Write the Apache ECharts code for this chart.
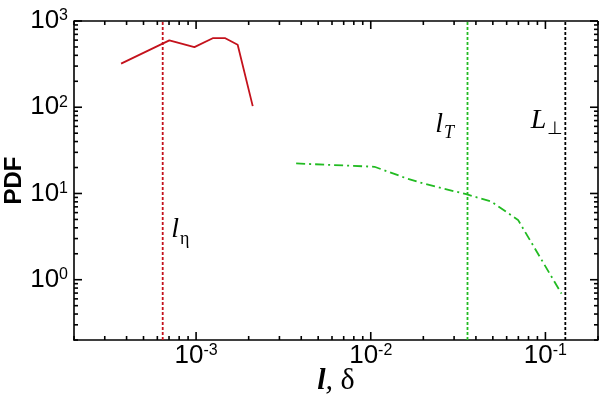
<!DOCTYPE html>
<html><head><meta charset="utf-8">
<script src="https://cdn.jsdelivr.net/npm/echarts@6/dist/echarts.min.js"></script>
<style>html,body{margin:0;padding:0;background:#fff}#c{width:600px;height:399px}</style>
</head><body><div id="c"></div>
<script>
// ---- data ----
const redX = [3.72e-4, 7.03e-4, 9.78e-4, 1.245e-3, 1.47e-3, 1.73e-3, 2.11e-3];
const redY = [320, 596, 498, 632, 632, 531, 103];
const greenX = [3.74e-3, 1.05e-2, 1.6e-2, 1.985e-2, 3.52e-2, 4.91e-2, 6.97e-2, 0.1236];
const greenY = [22.3, 20.4, 15.0, 13.1, 9.8, 8.04, 4.94, 0.69];
const vlineX = [6.44e-4, 3.58e-2, 0.13];
const xMajorTicks = [1e-3, 1e-2, 1e-1];
const yMajorTicks = [1, 10, 100, 1000];
const xRange = [2e-4, 0.2];
const yRange = [0.2, 1000];
const mantissas = [2, 3, 4, 5, 6, 7, 8, 9];
const xDecades = [1e-4, 1e-3, 1e-2, 1e-1];
const yDecades = [0.1, 1, 10, 100];

function minorTicks(decades, range) {
  const out = [];
  decades.forEach(d => mantissas.forEach(m => {
    const v = +(m * d).toPrecision(3);
    if (v >= range[0] && v <= range[1]) out.push(v);
  }));
  return out;
}
const xMinorTicks = minorTicks(xDecades, xRange);
const yMinorTicks = minorTicks(yDecades, yRange);

const RED = '#c4121c', GREEN = '#22bb22';
const sansFont = '"Liberation Sans", Arial, sans-serif';
const serifFont = '"Liberation Serif", "Times New Roman", serif';

const tickRich = {
  b: {fontSize: 26, lineHeight: 26, fontFamily: sansFont, color: '#000', verticalAlign: 'top'},
  s: {fontSize: 16, lineHeight: 16, fontFamily: sansFont, color: '#000', verticalAlign: 'top'}
};
function powLabel(v) {
  const e = Math.round(Math.log10(v));
  return '{b|10}{s|' + e + '}';
}

const xAxis = {
  type: 'log', min: xRange[0], max: xRange[1], position: 'bottom',
  axisLine: {show: true, onZero: false, lineStyle: {color: '#000', width: 1.6}},
  axisTick: {show: false},
  axisLabel: {show: true, customValues: xMajorTicks, formatter: powLabel, rich: tickRich, margin: 3},
  splitLine: {show: false},
  nameMoveOverlap: false,
  name: '{l|l}{c|, }{d|δ}', nameLocation: 'middle', nameGap: 26,
  nameTextStyle: {rich: {
    l: {fontSize: 30, fontFamily: serifFont, fontStyle: 'italic', fontWeight: 'bold', color: '#000'},
    c: {fontSize: 30, fontFamily: serifFont, fontStyle: 'italic', color: '#000'},
    d: {fontSize: 30, fontFamily: serifFont, color: '#000'}
  }}
};
const yAxis = {
  type: 'log', min: yRange[0], max: yRange[1], position: 'left',
  axisLine: {show: true, onZero: false, lineStyle: {color: '#000', width: 1.6}},
  axisTick: {show: false},
  axisLabel: {show: true, customValues: yMajorTicks, formatter: powLabel, rich: tickRich, margin: 6},
  splitLine: {show: false},
  nameMoveOverlap: false,
  name: 'PDF', nameLocation: 'middle', nameGap: 48,
  nameTextStyle: {fontSize: 24, fontWeight: 'bold', fontFamily: sansFont, color: '#000'}
};

// frame (top/right edges) and inside tick marks on all four sides,
// every one placed through the chart's own log scales (api.coord)
const tickItems = [{kind: 'top', value: [xRange[0], yRange[1]]}, {kind: 'right', value: [xRange[1], yRange[0]]}];
['b', 't'].forEach(side => {
  xMajorTicks.forEach(v => tickItems.push({kind: side, major: true, value: [v, yRange[0]]}));
  xMinorTicks.forEach(v => tickItems.push({kind: side, major: false, value: [v, yRange[0]]}));
});
['l', 'r'].forEach(side => {
  yMajorTicks.forEach(v => tickItems.push({kind: side, major: true, value: [xRange[0], v]}));
  yMinorTicks.forEach(v => tickItems.push({kind: side, major: false, value: [xRange[0], v]}));
});

function renderTick(params, api) {
  const it = tickItems[params.dataIndex];
  const len = it.major ? 8 : 4;
  const st = {stroke: '#000', lineWidth: 1.6};
  const bl = api.coord([xRange[0], yRange[0]]);
  const tr = api.coord([xRange[1], yRange[1]]);
  let s;
  if (it.kind === 'top') s = {x1: bl[0], y1: tr[1], x2: tr[0], y2: tr[1]};
  else if (it.kind === 'right') s = {x1: tr[0], y1: tr[1], x2: tr[0], y2: bl[1]};
  else if (it.kind === 'b' || it.kind === 't') {
    const px = api.coord([it.value[0], yRange[0]])[0];
    s = it.kind === 'b' ? {x1: px, y1: bl[1], x2: px, y2: bl[1] - len}
                        : {x1: px, y1: tr[1], x2: px, y2: tr[1] + len};
  } else {
    const py = api.coord([xRange[0], it.value[1]])[1];
    s = it.kind === 'l' ? {x1: bl[0], y1: py, x2: bl[0] + len, y2: py}
                        : {x1: tr[0], y1: py, x2: tr[0] - len, y2: py};
  }
  return {type: 'line', shape: s, style: st};
}

const annRich = {
  m: {fontSize: 28, lineHeight: 28, fontFamily: serifFont, fontStyle: 'italic', color: '#000', verticalAlign: 'top'},
  s: {fontSize: 18, lineHeight: 18, fontFamily: serifFont, color: '#000', verticalAlign: 'top', padding: [14, 0, 0, 1]},
  si: {fontSize: 18, lineHeight: 18, fontFamily: serifFont, fontStyle: 'italic', color: '#000', verticalAlign: 'top', padding: [14, 0, 0, 1]}
};
const annotations = [
  {name: '{m|l}{s|η}', coord: [8.13e-4, 3.79]},
  {name: '{m|l}{si|T}', coord: [2.65e-2, 62.8]},
  {name: '{m|L}{s|⊥}', coord: [0.1023, 70]}
];

function vline(x, color) {
  return {
    type: 'line', data: [[x, yRange[0]], [x, yRange[1]]],
    showSymbol: false, symbol: 'none', silent: true, z: 2,
    lineStyle: {color: color, width: 1.8, type: [3, 2]}
  };
}

const chart = echarts.init(document.getElementById('c'), null, {renderer: 'canvas'});
chart.setOption({
  animation: false,
  backgroundColor: '#fff',
  grid: {left: 74, top: 21, width: 524, height: 319, outerBoundsMode: 'none'},
  xAxis: xAxis,
  yAxis: yAxis,
  series: [
    {
      type: 'custom', name: 'frame', data: tickItems.map(t => t.value),
      renderItem: renderTick, clip: false, silent: true, z: 10
    },
    vline(vlineX[0], RED),
    vline(vlineX[1], GREEN),
    vline(vlineX[2], '#000'),
    {
      type: 'line', name: 'red', data: redX.map((x, i) => [x, redY[i]]),
      showSymbol: false, symbol: 'none',
      lineStyle: {color: RED, width: 1.8}, z: 3,
      markPoint: {
        symbol: 'circle', symbolSize: 0,
        label: {show: true, position: 'inside', formatter: p => p.name, rich: annRich},
        data: annotations
      }
    },
    {
      type: 'line', name: 'green', data: greenX.map((x, i) => [x, greenY[i]]),
      showSymbol: false, symbol: 'none',
      lineStyle: {color: GREEN, width: 1.8, type: [9, 4, 2, 4]}, z: 3
    }
  ]
});
</script>
</body></html>
